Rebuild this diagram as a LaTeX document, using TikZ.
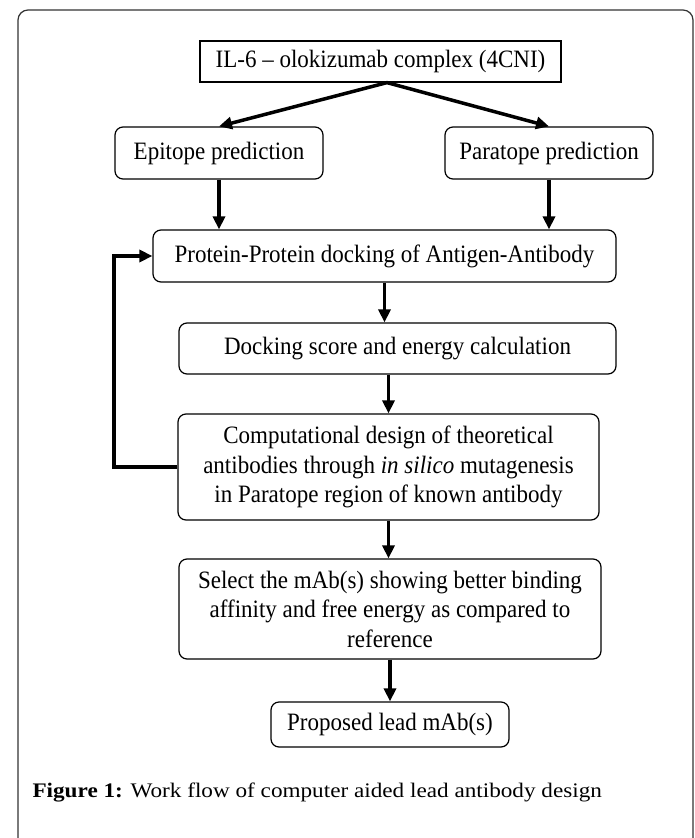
\documentclass[tikz,border=0pt]{standalone}
\usepackage{fontspec}
\setmainfont{Liberation Serif}
\newfontfamily\boxfont[Ligatures=TeX,FakeStretch=0.92]{Liberation Serif}
\newfontfamily\capfont[Ligatures=TeX,FakeStretch=1.12]{Liberation Serif}
\usetikzlibrary{arrows.meta}

\tikzset{
  stage/.style={draw,line width=1.2pt,rounded corners=8pt,align=center,
    inner sep=0pt,font=\boxfont\fontsize{25}{29.5}\selectfont},
  flow/.style={line width=3.5pt,-{Triangle[length=13pt,width=12pt]}}
}

\begin{document}
\begin{tikzpicture}[x=1pt,y=-1pt]
\useasboundingbox (0,0) rectangle (695,838);
% outer frame, open at the bottom
\draw[black!80,line width=1.2pt,rounded corners=10pt] (18,850) -- (18,10) -- (693,10) -- (693,850);

\node[stage,rounded corners=0pt,minimum width=361pt,minimum height=41pt] (top) at (380.5,61.5) {IL-6 \textendash{} olokizumab complex (4CNI)};
\node[stage,minimum width=208pt,minimum height=52pt] (epi) at (219,153) {Epitope prediction};
\node[stage,minimum width=208pt,minimum height=52pt] (para) at (549,153) {Paratope prediction};
\node[stage,minimum width=463pt,minimum height=52pt] (prot) at (384.5,256) {Protein-Protein docking of Antigen-Antibody};
\node[stage,minimum width=437pt,minimum height=51pt] (dock) at (397.5,348.5) {Docking score and energy calculation};
\node[stage,minimum width=421pt,minimum height=106pt] (comp) at (388.5,467) {Computational design of theoretical\\antibodies through \textit{in silico} mutagenesis\\in Paratope region of known antibody};
\node[stage,minimum width=422pt,minimum height=100pt] (sel) at (390,609) {Select the mAb(s) showing better binding\\affinity and free energy as compared to\\reference};
\node[stage,minimum width=238pt,minimum height=45pt] (prop) at (390,724.5) {Proposed lead mAb(s)};

\draw[flow] ([xshift=6.5pt]top.south) -- (epi.north);
\draw[flow] ([xshift=6.5pt]top.south) -- (para.north);
\draw[flow] (epi.south) -- (epi.south |- prot.north);
\draw[flow] (para.south) -- (para.south |- prot.north);
\draw[flow] (prot.south) -- (prot.south |- dock.north);
\draw[flow] (comp.north |- dock.south) -- (comp.north);
\draw[flow] (comp.south) -- (comp.south |- sel.north);
\draw[flow] (sel.south) -- (prop.north);
% loop back to docking
\draw[flow,line width=4pt] (comp.west) -- (comp.west -| epi.west) |- (prot.west);

\node[anchor=base west,font=\capfont\fontsize{20.7}{26}\selectfont] (cap) at (29,797) {\textbf{Figure 1:} Work flow of computer aided lead antibody design};
\end{tikzpicture}
\end{document}
